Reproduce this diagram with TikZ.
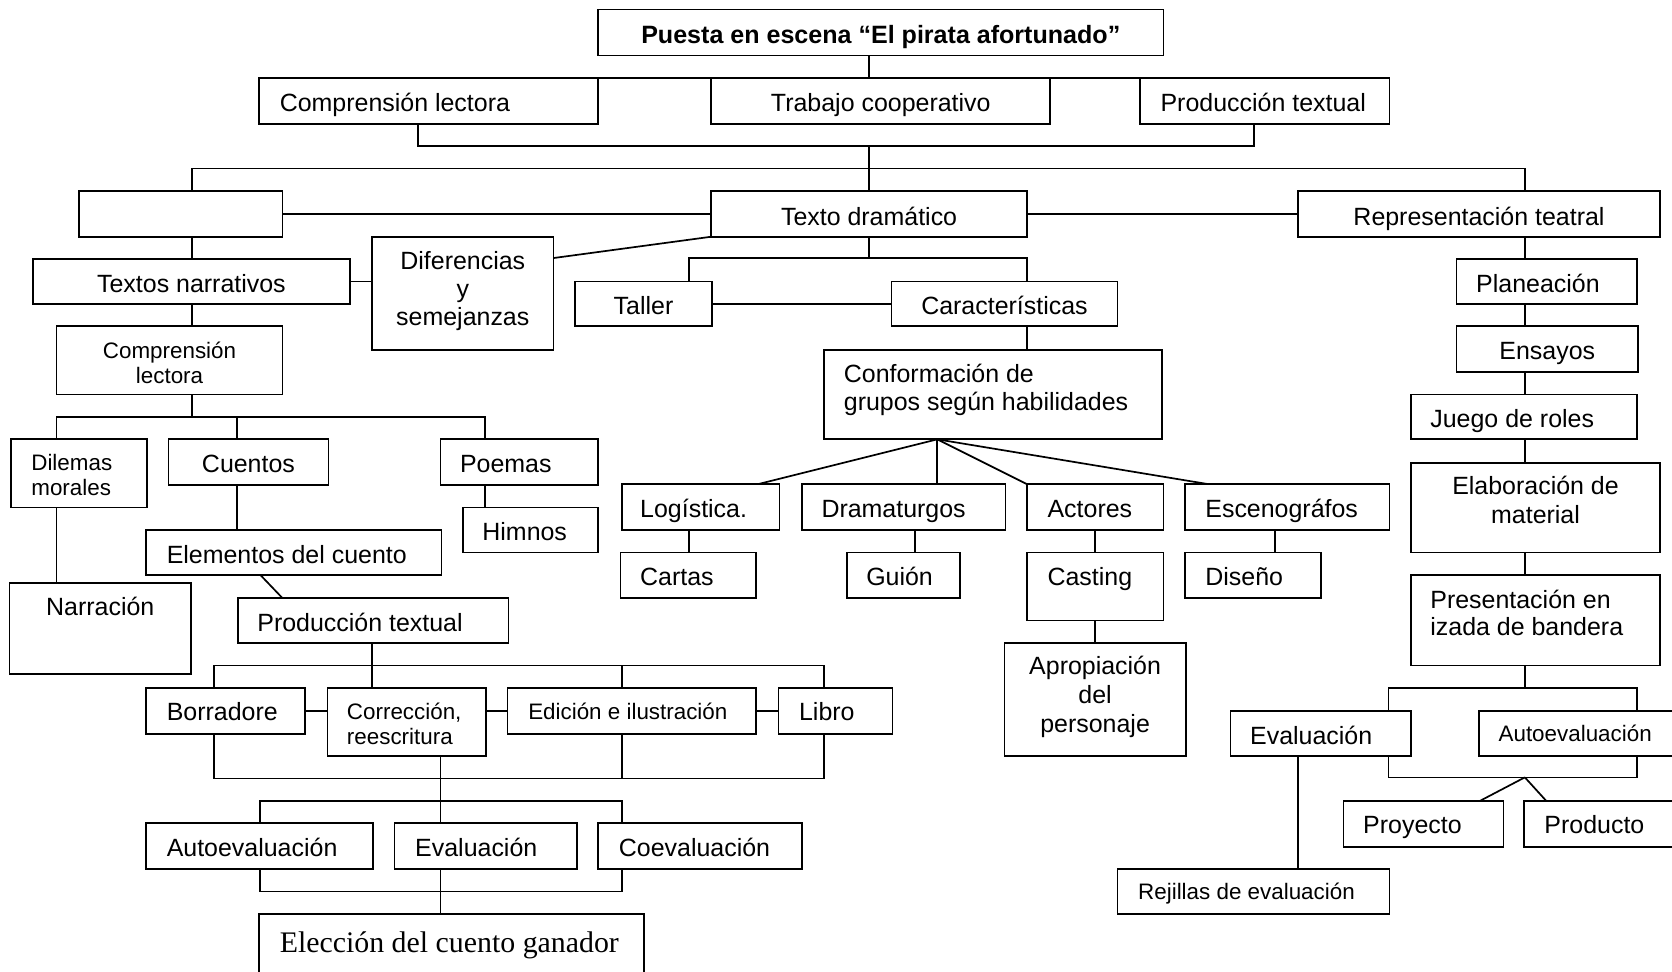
\documentclass[tikz,border=0pt]{standalone}
\usepackage{fontspec}
\setmainfont{Liberation Sans}
\newfontfamily\tnr{Liberation Serif}
\usetikzlibrary{fit}
\begin{document}
\begin{tikzpicture}[x=0.5pt,y=-0.5pt,
  box/.style={draw,line width=0.8pt,inner sep=0pt,outer sep=0pt},
  ln/.style={line width=0.8pt},
  tx/.style={inner sep=0pt,font=\fontsize{11.7}{13}\selectfont},
  sm/.style={inner sep=0pt,font=\fontsize{10.5}{11.75}\selectfont}]
\clip (0,0) rectangle (1568,911);
\fill[white] (0,0) rectangle (1568,911);
% ---------- boxes ----------
\node[box,fit={(561,9) (1091,52)}] (title) {};
\node[box,fit={(243,73) (561,116)}] (cl) {};
\node[box,fit={(667,73) (985,116)}] (tc) {};
\node[box,fit={(1069,73) (1303,116)}] (pt) {};
\node[box,fit={(74,179) (265,222)}] (empty) {};
\node[box,fit={(667,179) (963,222)}] (td) {};
\node[box,fit={(1217,179) (1557,222)}] (rt) {};
\node[box,fit={(31,243) (328,285)}] (tn) {};
\node[box,fit={(349,222) (519,328)}] (dif) {};
\node[box,fit={(539,264) (668,306)}] (taller) {};
\node[box,fit={(836,264) (1048,306)}] (car) {};
\node[box,fit={(773,328) (1090,412)}] (conf) {};
\node[box,fit={(583,454) (731,497)}] (log) {};
\node[box,fit={(752,454) (943,497)}] (dram) {};
\node[box,fit={(963,454) (1091,497)}] (act) {};
\node[box,fit={(1111,454) (1303,497)}] (esc) {};
\node[box,fit={(582,518) (709,561)}] (cartas) {};
\node[box,fit={(794,518) (900,561)}] (guion) {};
\node[box,fit={(963,518) (1091,582)}] (casting) {};
\node[box,fit={(1111,518) (1239,561)}] (diseno) {};
\node[box,fit={(942,603) (1112,709)}] (apro) {};
\node[box,fit={(1366,243) (1535,285)}] (plan) {};
\node[box,fit={(1366,306) (1536,349)}] (ens) {};
\node[box,fit={(1323,370) (1535,412)}] (juego) {};
\node[box,fit={(1323,434) (1557,518)}] (elab) {};
\node[box,fit={(1323,539) (1557,624)}] (pres) {};
\node[box,fit={(1154,667) (1323,709)}] (evr) {};
\node[box,fit={(1387,667) (1590,709)}] (autor) {};
\node[box,fit={(1260,751) (1410,794)}] (proy) {};
\node[box,fit={(1429,751) (1590,794)}] (prod) {};
\node[box,fit={(1048,815) (1303,857)}] (rej) {};
\node[box,fit={(53,306) (265,370)}] (cl2) {};
\node[box,fit={(10,412) (138,476)}] (dil) {};
\node[box,fit={(158,412) (308,455)}] (cuentos) {};
\node[box,fit={(413,412) (561,455)}] (poemas) {};
\node[box,fit={(434,476) (561,518)}] (himnos) {};
\node[box,fit={(137,497) (414,539)}] (elem) {};
\node[box,fit={(9,547) (179,632)}] (narr) {};
\node[box,fit={(223,561) (477,603)}] (pt2) {};
\node[box,fit={(137,645) (286,688)}] (borr) {};
\node[box,fit={(307,645) (456,709)}] (corr) {};
\node[box,fit={(476,645) (709,688)}] (edic) {};
\node[box,fit={(730,645) (837,688)}] (libro) {};
\node[box,fit={(137,772) (350,815)}] (autol) {};
\node[box,fit={(370,772) (541,815)}] (evm) {};
\node[box,fit={(561,772) (752,815)}] (coev) {};
\node[box,fit={(243,857) (604,940)}] (elec) {};
% ---------- texts (multi-line: base = last line) ----------
\node[tx,anchor=base,font=\fontsize{11.75}{13}\selectfont\bfseries] (titlet) at (826,40.6) {Puesta en escena “El pirata afortunado”};
\node[tx,anchor=base west] (clt) at (262,105) {Comprensión lectora};
\node[tx,anchor=base] (tct) at (826,105) {Trabajo cooperativo};
\node[tx,anchor=base west] (ptt) at (1088,105) {Producción textual};
\node[tx,anchor=base] (tdt) at (815,211) {Texto dramático};
\node[tx,anchor=base] (rtt) at (1387,211) {Representación teatral};
\node[tx,anchor=base] (tnt) at (179.5,274) {Textos narrativos};
\node[tx,anchor=base,align=center] (dift) at (434,305) {Diferencias\\y\\semejanzas};
\node[tx,anchor=base] (tallert) at (603.5,295) {Taller};
\node[tx,anchor=base] (cart) at (942,295) {Características};
\node[tx,anchor=base west,align=left,font=\fontsize{11.7}{13.15}\selectfont] (conft) at (791,385.3) {Conformación de\\grupos según habilidades};
\node[tx,anchor=base west] (logt) at (600,485) {Logística.};
\node[tx,anchor=base west] (dramt) at (770,485) {Dramaturgos};
\node[tx,anchor=base west] (actt) at (982,485) {Actores};
\node[tx,anchor=base west] (esct) at (1130,485) {Escenográfos};
\node[tx,anchor=base west] (cartast) at (600,549) {Cartas};
\node[tx,anchor=base west] (guiont) at (812,549) {Guión};
\node[tx,anchor=base west] (castingt) at (982,549) {Casting};
\node[tx,anchor=base west] (disenot) at (1130,549) {Diseño};
\node[tx,anchor=base,align=center,font=\fontsize{11.7}{13.5}\selectfont] (aprot) at (1027,687) {Apropiación\\del\\personaje};
\node[tx,anchor=base west] (plant) at (1384,274) {Planeación};
\node[tx,anchor=base] (enst) at (1451,337) {Ensayos};
\node[tx,anchor=base west] (juegot) at (1341,401) {Juego de roles};
\node[tx,anchor=base,align=center,font=\fontsize{11.7}{13.25}\selectfont] (elabt) at (1440,490.5) {Elaboración de\\material};
\node[tx,anchor=base west,align=left,font=\fontsize{11.7}{12.5}\selectfont] (prest) at (1341,595.5) {Presentación en\\izada de bandera};
\node[tx,anchor=base west] (evrt) at (1172,698) {Evaluación};
\node[sm,anchor=base west] (autort) at (1405,695.5) {Autoevaluación};
\node[tx,anchor=base west] (proyt) at (1278,782) {Proyecto};
\node[tx,anchor=base west] (prodt) at (1448,782) {Producto};
\node[sm,anchor=base west] (rejt) at (1067,843.5) {Rejillas de evaluación};
\node[sm,anchor=base,align=center] (cl2t) at (159,359.5) {Comprensión\\lectora};
\node[sm,anchor=base west,align=left] (dilt) at (29,465) {Dilemas\\morales};
\node[tx,anchor=base] (cuentost) at (233,443) {Cuentos};
\node[tx,anchor=base west] (poemast) at (431,443) {Poemas};
\node[tx,anchor=base west] (himnost) at (452,507) {Himnos};
\node[tx,anchor=base west] (elemt) at (156,528) {Elementos del cuento};
\node[tx,anchor=base] (narrt) at (94,577) {Narración};
\node[tx,anchor=base west] (pt2t) at (241,592) {Producción textual};
\node[tx,anchor=base west] (borrt) at (156,676) {Borradore};
\node[sm,anchor=base west,align=left,font=\fontsize{10.5}{12}\selectfont] (corrt) at (325,698.6) {Corrección,\\reescritura};
\node[sm,anchor=base west] (edict) at (495,674.5) {Edición e ilustración};
\node[tx,anchor=base west] (librot) at (749,676) {Libro};
\node[tx,anchor=base west] (autolt) at (156,803) {Autoevaluación};
\node[tx,anchor=base west] (evmt) at (389,803) {Evaluación};
\node[tx,anchor=base west] (coevt) at (580,803) {Coevaluación};
\node[tx,anchor=base west,font=\fontsize{14}{16}\tnr] (elect) at (262,893) {Elección del cuento ganador};
% ---------- junctions ----------
\coordinate (j1) at (815,137);
\coordinate (j2) at (180,391);
\coordinate (f) at (879,412);
\coordinate (k) at (1430,729);
\coordinate (m) at (1430,645);
% ---------- connectors ----------
\draw[ln] (td.north |- title.south) -- (td.north |- tc.north);
\draw[ln] (cl.north east) -- (pt.north west);
\draw[ln] (392,0 |- cl.south) -- (392,137) -- (1176,137) -- (1176,0 |- pt.south);
\draw[ln] (j1) -- (td.north);
\draw[ln] (180,0 |- empty.north) -- (180,158) -- (1430,158) -- (1430,0 |- rt.north);
\draw[ln] (empty.east) -- (td.west);
\draw[ln] (td.east) -- (rt.west);
\draw[ln] (180,0 |- empty.south) -- (180,0 |- tn.north);
\draw[ln] (tn.east) -- (tn.east -| dif.west);
\draw[ln] (td.south west) -- (dif.east |- 0,242);
\draw[ln] (td.south) -- (815,242);
\draw[ln] (646,0 |- taller.north) -- (646,242) -- (963,242) -- (963,0 |- car.north);
\draw[ln] (taller.east) -- (car.west);
\draw[ln] (963,0 |- car.south) -- (963,0 |- conf.north);
\draw[ln] (f) -- (711,0 |- log.north);
\draw[ln] (f) -- (879,0 |- dram.north);
\draw[ln] (f) -- (act.north west);
\draw[ln] (f) -- (1133,0 |- esc.north);
\draw[ln] (646,0 |- log.south) -- (646,0 |- cartas.north);
\draw[ln] (858,0 |- dram.south) -- (858,0 |- guion.north);
\draw[ln] (act.south) -- (casting.north);
\draw[ln] (casting.south) -- (apro.north);
\draw[ln] (1196,0 |- esc.south) -- (1196,0 |- diseno.north);
% right column
\draw[ln] (1430,0 |- rt.south) -- (1430,0 |- plan.north);
\draw[ln] (1430,0 |- plan.south) -- (1430,0 |- ens.north);
\draw[ln] (1430,0 |- ens.south) -- (1430,0 |- juego.north);
\draw[ln] (1430,0 |- juego.south) -- (1430,0 |- elab.north);
\draw[ln] (1430,0 |- elab.south) -- (1430,0 |- pres.north);
\draw[ln] (1430,0 |- pres.south) -- (m);
\draw[ln] (1302,0 |- evr.north) -- (1302,645) -- (1535,645) -- (1535,0 |- autor.north);
\draw[ln] (1302,0 |- evr.south) -- (1302,729) -- (1535,729) -- (1535,0 |- autor.south);
\draw[ln] (k) -- (1388,0 |- proy.north);
\draw[ln] (k) -- (1450,0 |- prod.north);
\draw[ln] (1217.5,0 |- evr.south) -- (1217.5,0 |- rej.north);
% left lower
\draw[ln] (180,0 |- tn.south) -- (180,0 |- cl2.north);
\draw[ln] (180,0 |- cl2.south) -- (j2);
\draw[ln] (53,0 |- dil.north) -- (53,391) -- (455,391) -- (455,0 |- poemas.north);
\draw[ln] (222,391) -- (222,0 |- cuentos.north);
\draw[ln] (455,0 |- poemas.south) -- (455,0 |- himnos.north);
\draw[ln] (222,0 |- cuentos.south) -- (222,0 |- elem.north);
\draw[ln] (53,0 |- dil.south) -- (53,0 |- narr.north);
\draw[ln] (244,0 |- elem.south) -- (265,0 |- pt2.north);
\draw[ln] (349,0 |- pt2.south) -- (349,624);
\draw[ln] (201,0 |- borr.north) -- (201,624) -- (773,624) -- (773,0 |- libro.north);
\draw[ln] (349,624) -- (349,0 |- corr.north);
\draw[ln] (583,624) -- (583,0 |- edic.north);
\draw[ln] (borr.east) -- (borr.east -| corr.west);
\draw[ln] (edic.west) -- (edic.west -| corr.east);
\draw[ln] (edic.east) -- (libro.west);
\draw[ln] (201,0 |- borr.south) -- (201,730) -- (773,730) -- (773,0 |- libro.south);
\draw[ln] (583,0 |- edic.south) -- (583,730);
\draw[ln] (413,0 |- corr.south) -- (413,0 |- evm.north);
\draw[ln] (243.5,0 |- autol.north) -- (243.5,751) -- (583,751) -- (583,0 |- coev.north);
\draw[ln] (243.5,0 |- autol.south) -- (243.5,836) -- (583,836) -- (583,0 |- coev.south);
\draw[ln] (413,0 |- evm.south) -- (413,0 |- elec.north);
\end{tikzpicture}
\end{document}
